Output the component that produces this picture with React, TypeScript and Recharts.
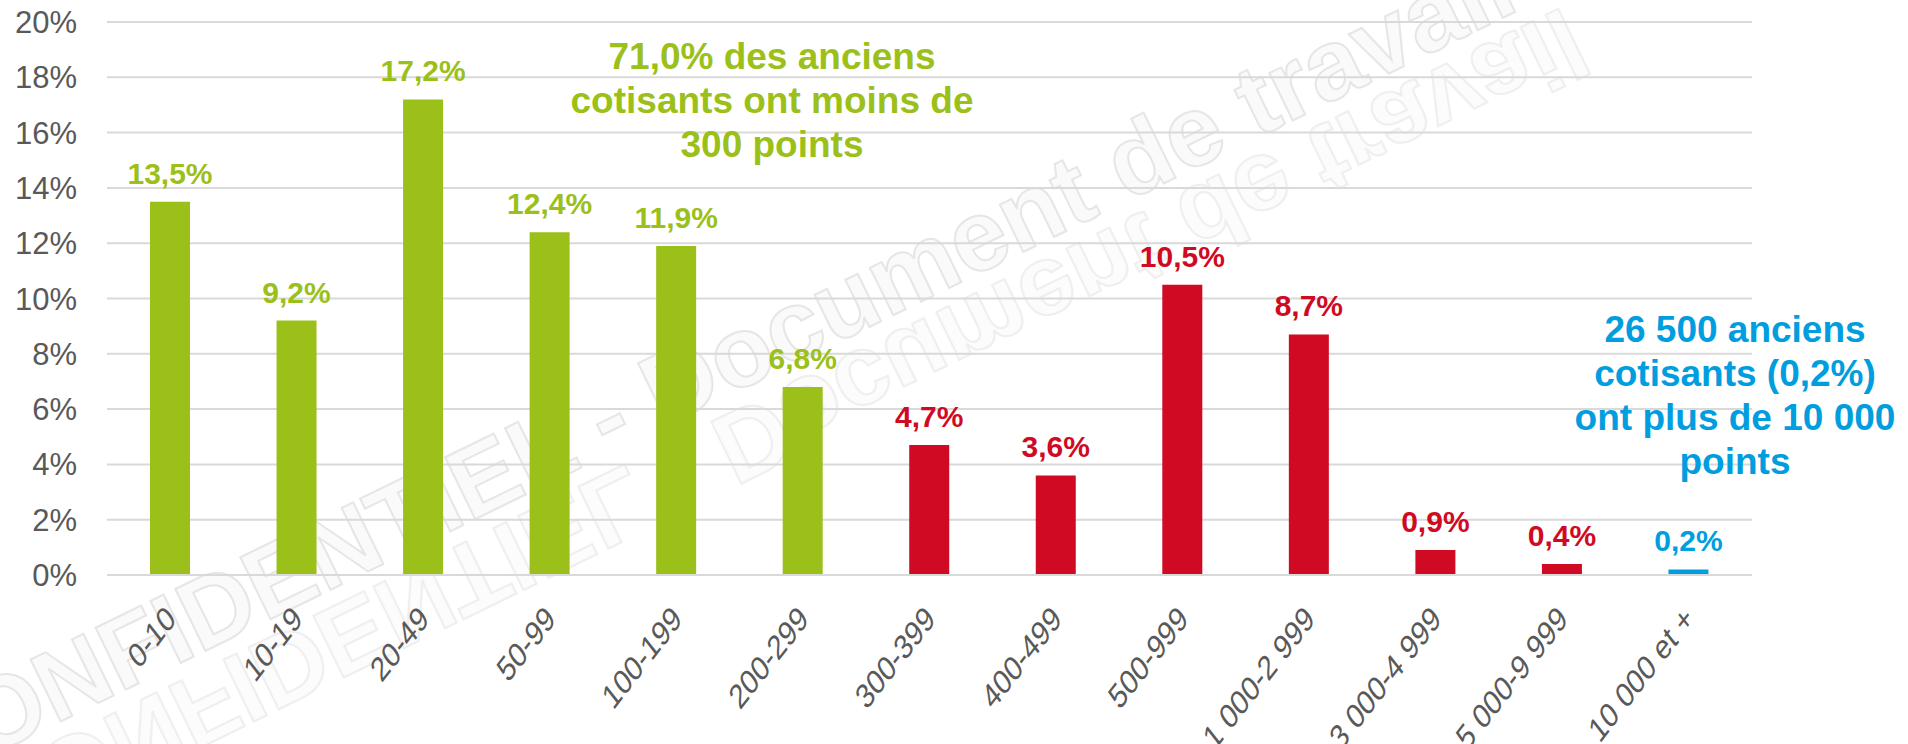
import { BarChart, Bar, XAxis, YAxis, CartesianGrid, Cell, LabelList } from "recharts";

const categories = [
  "0-10",
  "10-19",
  "20-49",
  "50-99",
  "100-199",
  "200-299",
  "300-399",
  "400-499",
  "500-999",
  "1 000-2 999",
  "3 000-4 999",
  "5 000-9 999",
  "10 000 et +",
];
const shares = [13.5, 9.2, 17.2, 12.4, 11.9, 6.8, 4.7, 3.6, 10.5, 8.7, 0.9, 0.4, 0.2];
const groups = [
  "moins300", "moins300", "moins300", "moins300", "moins300", "moins300",
  "milieu", "milieu", "milieu", "milieu", "milieu", "milieu",
  "plus10000",
];
const yTicks = [0, 2, 4, 6, 8, 10, 12, 14, 16, 18, 20];

const noteGreen = ["71,0% des anciens", "cotisants ont moins de", "300 points"];
const noteBlue = ["26 500 anciens", "cotisants (0,2%)", "ont plus de 10 000", "points"];
const watermark = "CONFIDENTIEL - Document de travail";

const COLORS: Record<string, string> = {
  moins300: "#9bc01a",
  milieu: "#d00a22",
  plus10000: "#009ede",
};
const FONT = '"Liberation Sans", Arial, sans-serif';
const GREY = "#595959";

const data = categories.map((name, i) => ({ name, share: shares[i], group: groups[i] }));

const fmt = (v: number) => v.toFixed(1).replace(".", ",") + "%";

// libellés inclinés, un peu étirés en hauteur comme dans l'original
const XTick = (props: any) => {
  const { x, y, payload } = props;
  return (
    <g transform={`translate(${x + 7},${y + 46})`}>
      <text transform="scale(1,1.28) rotate(-45)" textAnchor="end" fill={GREY} fontSize={27} fontFamily={FONT}>
        {payload.value}
      </text>
    </g>
  );
};

const ValueLabel = (props: any) => {
  const { x, y, width, value, index } = props;
  return (
    <text
      x={x + width / 2}
      y={y - 18}
      textAnchor="middle"
      fill={COLORS[groups[index]]}
      fontSize={30}
      fontWeight="bold"
      fontFamily={FONT}
    >
      {fmt(value)}
    </text>
  );
};

export default function App() {
  return (
    <div style={{ position: "relative", width: 1908, height: 744, background: "#fff", fontFamily: FONT }}>
      <style>{`body{margin:0}`}</style>
      {/* filigrane + reflet */}
      <svg width={1908} height={744} style={{ position: "absolute", left: 0, top: 0 }}>
        <g transform="translate(-80,790) rotate(-26)">
          <text fontSize={100} fontWeight="bold" fontFamily={FONT} fill="#fafafa" stroke="#e6e6e6" strokeWidth={2}>
            {watermark}
          </text>
          <text
            transform="translate(40,16) scale(1,-1)"
            fontSize={100}
            fontWeight="bold"
            fontFamily={FONT}
            fill="#fcfcfc"
            stroke="#efefef"
            strokeWidth={2}
          >
            {watermark}
          </text>
        </g>
      </svg>
      <div style={{ position: "absolute", left: 0, top: 0 }}>
        <BarChart width={1908} height={744} data={data} margin={{ top: 22, right: 156, bottom: 0, left: 0 }}>
          <CartesianGrid vertical={false} stroke="#d9d9d9" strokeWidth={2} />
          <XAxis
            dataKey="name"
            interval={0}
            height={169}
            tickLine={false}
            tickSize={0}
            tickMargin={0}
            axisLine={{ stroke: "#d9d9d9", strokeWidth: 2 }}
            tick={<XTick />}
          />
          <YAxis
            domain={[0, 20]}
            ticks={yTicks}
            width={107}
            axisLine={false}
            tickLine={false}
            tickSize={0}
            tickMargin={30}
            tickFormatter={(v: number) => `${v}%`}
            tick={{ fill: GREY, fontSize: 31, fontFamily: FONT }}
          />
          <Bar dataKey="share" barSize={40} isAnimationActive={false}>
            {data.map((d) => (
              <Cell key={d.name} fill={COLORS[d.group]} />
            ))}
            <LabelList dataKey="share" content={<ValueLabel />} />
          </Bar>
        </BarChart>
      </div>
      <svg width={1908} height={744} style={{ position: "absolute", left: 0, top: 0, pointerEvents: "none" }}>
        {noteGreen.map((line, i) => (
          <text
            key={line}
            x={772}
            y={69 + i * 44}
            textAnchor="middle"
            fill={COLORS.moins300}
            fontSize={37}
            fontWeight="bold"
            fontFamily={FONT}
          >
            {line}
          </text>
        ))}
        {noteBlue.map((line, i) => (
          <text
            key={line}
            x={1735}
            y={342 + i * 44}
            textAnchor="middle"
            fill={COLORS.plus10000}
            fontSize={37}
            fontWeight="bold"
            fontFamily={FONT}
          >
            {line}
          </text>
        ))}
      </svg>
    </div>
  );
}
